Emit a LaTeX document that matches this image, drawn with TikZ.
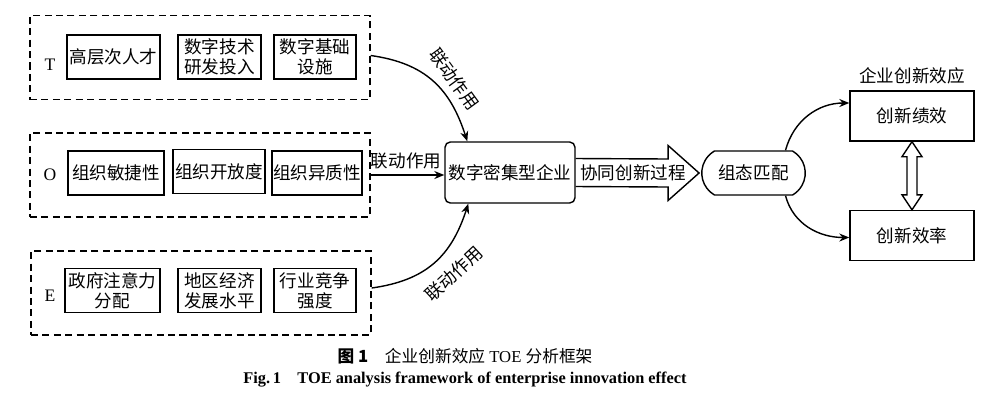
\documentclass[tikz,border=0pt]{standalone}
\usepackage{fontspec}
\setmainfont{Liberation Serif}
\newfontfamily\cjk{Noto Sans CJK SC}
\usetikzlibrary{arrows.meta, positioning, calc, shapes.misc}
\tikzset{
  every picture/.style={line width=0.8pt},
  group/.style={draw, dash pattern=on 4pt off 2.5pt, minimum width=6.8cm, minimum height=1.68cm},
  item/.style={draw, align=center, inner sep=0.5pt, minimum height=0.88cm, font=\cjk\fontsize{10}{11.5}\selectfont},
  link/.style={-{Stealth[length=2mm, width=1.6mm]}},
  tag/.style={font=\cjk\fontsize{10}{12}\selectfont, inner sep=1pt},
  effect/.style={draw, minimum width=2.48cm, minimum height=1.0cm, font=\cjk\fontsize{10}{12}\selectfont},
}

\begin{document}
\begin{tikzpicture}[x=0.02cm, y=-0.02cm]
  \useasboundingbox (0,0) rectangle (1000,397);
  % TOE groups
  \node[group] (grpT) at (200,57.5) {};
  \node[group] (grpO) at (200,175) {};
  \node[group] (grpE) at (201,293) {};
  \foreach \l/\y in {T/65,O/175,E/296} \node[font=\fontsize{10}{12}\selectfont] (lab\l) at (50,\y) {\l};
  % factors
  \node[item, minimum width=1.86cm] (talent) at (113.5,57) {高层次人才};
  \node[item, minimum width=1.66cm] (rd) at (219.5,57) {数字技术\\研发投入};
  \node[item, minimum width=1.64cm] (infra) at (315,57) {数字基础\\设施};
  \node[item, minimum width=1.92cm] (agile) at (116,173) {组织敏捷性};
  \node[item, minimum width=1.84cm] (open) at (219,171.5) {组织开放度};
  \node[item, minimum width=1.76cm] (hetero) at (317,173) {组织异质性};
  \node[item, minimum width=1.90cm] (gov) at (112.5,290.5) {政府注意力\\分配};
  \node[item, minimum width=1.66cm] (econ) at (219.5,290.5) {地区经济\\发展水平};
  \node[item, minimum width=1.64cm] (comp) at (315,290.5) {行业竞争\\强度};
  % firm and matching
  \node[draw, rounded corners=3pt, minimum width=2.6cm, minimum height=1.22cm, tag] (ent) at (510,172.5) {数字密集型企业};
  \node[draw, rounded rectangle, rounded rectangle arc length=120, minimum width=2.14cm, minimum height=0.88cm, tag] (match) at (753.5,173) {组态匹配};
  % process arrow
  \coordinate (tip) at ($(match.west)+(-2,0)$);
  \draw ($(ent.east)+(0,-14)$) -- ($(tip)+(-31,-14)$) -- ($(tip)+(-31,-27.5)$) -- (tip)
    -- ($(tip)+(-31,27.5)$) -- ($(tip)+(-31,14)$) -- ($(ent.east)+(0,14)$);
  \node[tag] (proc) at (633,173) {协同创新过程};
  % effects
  \node[effect] (perf) at (912,116) {创新绩效};
  \node[effect] (eff) at (912,235.5) {创新效率};
  \node[tag, above=2pt of perf] (head) {企业创新效应};
  % links
  \draw[link] ($(grpT.east)+(0,-2)$) to[out=-8, in=108, looseness=1.1] ($(ent.north west)+(23,0)$);
  \draw[link] (grpO.east) -- (grpO.east -| ent.west);
  \draw[link] ($(grpE.east)+(0,-5)$) to[out=8, in=-108, looseness=1.1] ($(ent.south west)+(24,0)$);
  \node[tag, rotate=-54] (linkT) at (454,79) {联动作用};
  \node[tag] (linkO) at (406,161) {联动作用};
  \node[tag, rotate=43] (linkE) at (454,274) {联动作用};
  \draw[link] ($(match.north)+(32,0)$) to[out=75, in=180] ($(perf.west)+(0,-13)$);
  \draw[link] ($(match.south)+(32,0)$) to[out=-75, in=180] ($(eff.west)+(0,2)$);
  % double arrow
  \draw (perf.south) -- ++(10,15) -- ++(-5,0) -- ($(eff.north)+(5,-15)$) -- ++(5,0) -- (eff.north)
    -- ++(-10,-15) -- ++(5,0) -- ($(perf.south)+(-5,15)$) -- ++(-5,0) -- cycle;
  % caption
  \node[font=\fontsize{9.5}{11}\selectfont] (capCN) at (465,356) {{\cjk\bfseries 图 1}\quad{\cjk 企业创新效应} TOE {\cjk 分析框架}};
  \node[font=\bfseries\fontsize{9.3}{11}\selectfont] (capEN) at (465,380) {Fig.\,1\quad TOE analysis framework of enterprise innovation effect};
\end{tikzpicture}
\end{document}
